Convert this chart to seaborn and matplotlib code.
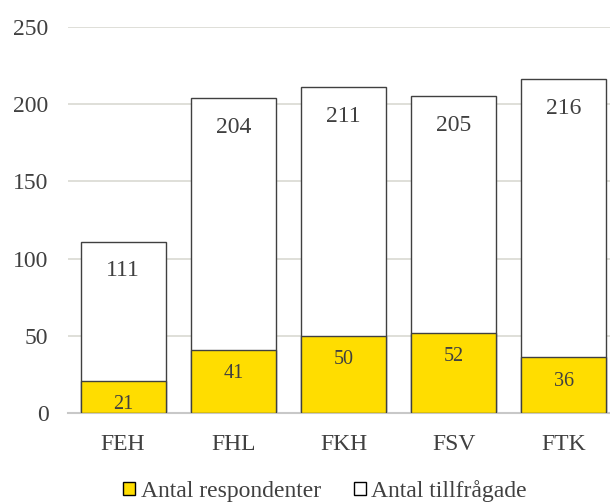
import matplotlib
matplotlib.use('Agg')
import matplotlib.pyplot as plt
import seaborn as sns
from matplotlib.patches import Patch

categories = ['FEH', 'FHL', 'FKH', 'FSV', 'FTK']
tillfragade = [111, 204, 211, 205, 216]
respondenter = [21, 41, 50, 52, 36]
y_ticks = [0, 50, 100, 150, 200, 250]

YELLOW = '#FFDD00'
EDGE = '#404040'
TEXT = '#404040'


def main():
    sns.set_style('white')
    plt.rcParams['font.family'] = ['Liberation Serif', 'DejaVu Serif']

    fig = plt.figure(figsize=(6.1, 5.03), dpi=100)
    ax = fig.add_axes([68 / 610, 90 / 503, 551 / 610, 386 / 503])

    sns.barplot(x=categories, y=tillfragade, color='white', edgecolor=EDGE,
                linewidth=1, width=0.77, saturation=1, ax=ax, zorder=2)
    sns.barplot(x=categories, y=respondenter, color=YELLOW, edgecolor=EDGE,
                linewidth=1, width=0.77, saturation=1, ax=ax, zorder=3)

    for i, v in enumerate(tillfragade):
        ax.annotate(str(v), (i, v), xytext=(0, -21), textcoords='offset points',
                    ha='center', va='center', fontsize=17, color=TEXT, zorder=4)
    for i, v in enumerate(respondenter):
        ax.annotate(str(v), (i, v), xytext=(0, -17), textcoords='offset points',
                    ha='center', va='center', fontsize=14.5, color=TEXT, zorder=4)

    ax.set_ylim(0, 250)
    ax.set_xlim(-0.5, 4.5)
    ax.set_yticks(y_ticks)
    ax.yaxis.grid(True, color='#dcdcd6', linewidth=1.3, zorder=0)
    ax.set_axisbelow(True)
    for s in ['left', 'right', 'top']:
        ax.spines[s].set_visible(False)
    ax.spines['bottom'].set_color('#c8c8c8')
    ax.spines['bottom'].set_linewidth(1.5)
    ax.tick_params(axis='both', length=0, labelsize=17, colors=TEXT)
    ax.tick_params(axis='y', pad=14)
    ax.tick_params(axis='x', pad=15)

    handles = [Patch(facecolor=YELLOW, edgecolor='black', label='Antal respondenter'),
               Patch(facecolor='white', edgecolor='black', label='Antal tillfrågade')]
    fig.legend(handles=handles, loc='center', bbox_to_anchor=(325 / 610, 1 - 491 / 503),
               ncol=2, frameon=False, fontsize=17, handlelength=0.5, handleheight=0.5,
               handletextpad=0.25, columnspacing=1.4, labelcolor=TEXT,
               borderpad=0, borderaxespad=0)

    fig.savefig('out.png', dpi=100)


if __name__ == '__main__':
    main()
